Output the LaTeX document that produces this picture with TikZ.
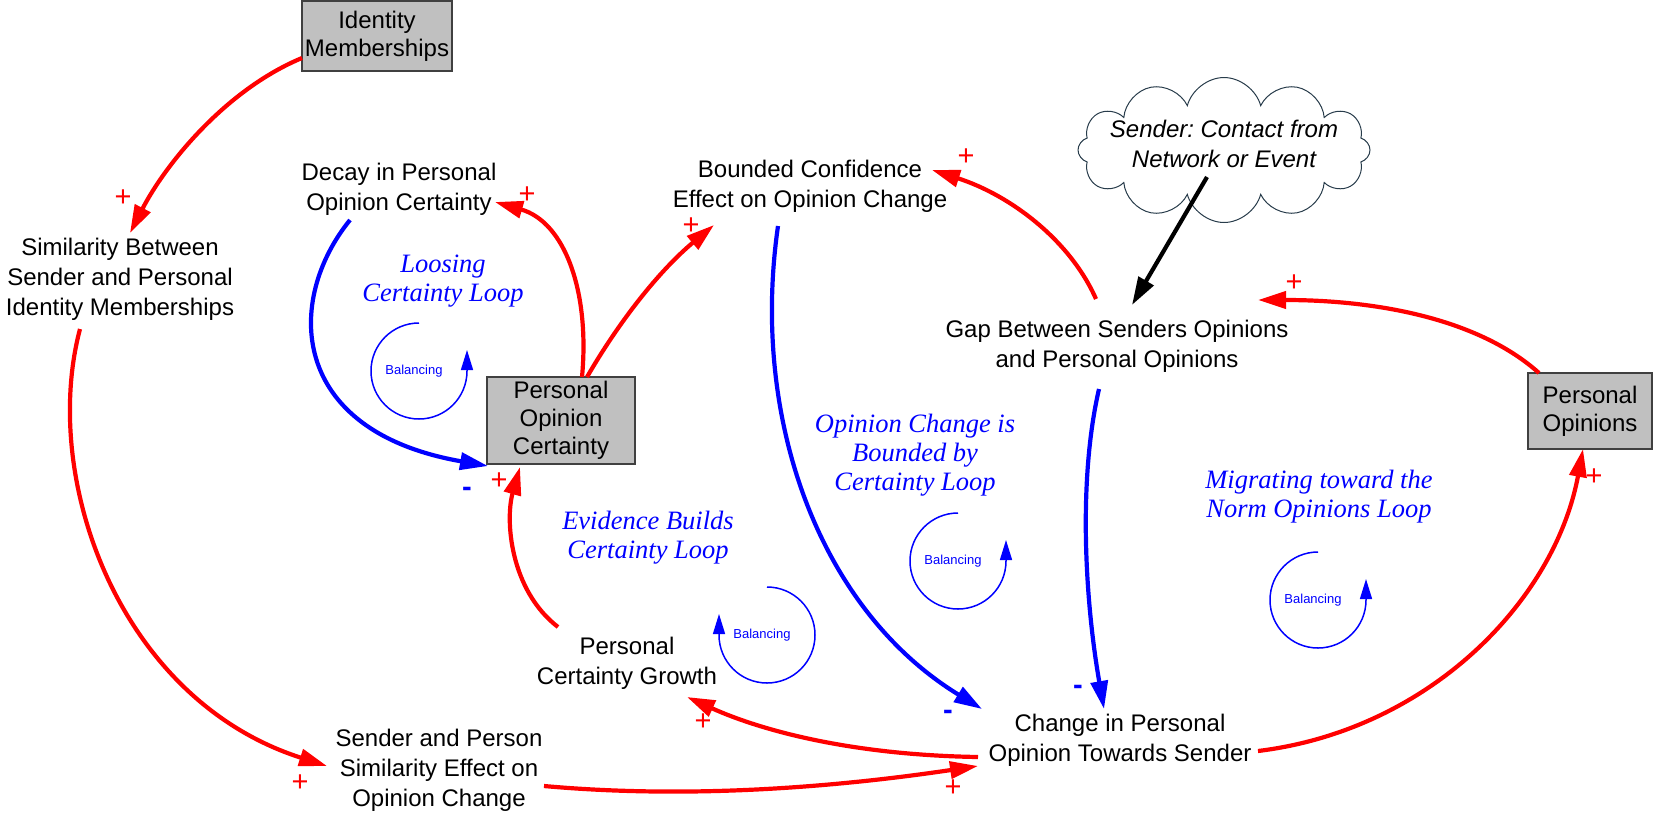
\documentclass[tikz,border=0pt]{standalone}
\usepackage{fontspec}
\setmainfont{Liberation Sans}
\newfontfamily\loopfont{Liberation Serif}
\usetikzlibrary{arrows.meta,shapes.symbols,calc}

\definecolor{boxgray}{RGB}{192,192,192}
\definecolor{boxline}{RGB}{64,64,64}
\definecolor{cloudline}{RGB}{40,60,75}

\begin{document}
\begin{tikzpicture}[x=1pt,y=-1pt,
  every node/.style={font=\fontsize{24}{30}\selectfont, align=center, inner sep=0pt},
  stock/.style={draw=boxline, line width=2pt, fill=boxgray, font=\fontsize{24}{28}\selectfont},
  pos link/.style={red, line width=4.2pt, -{Triangle[length=28pt,width=17pt]}},
  neg link/.style={blue, line width=4.2pt, -{Triangle[length=28pt,width=17pt]}},
  plus/.style={red, font=\fontsize{29}{30}\selectfont},
  minus/.style={blue, font=\bfseries\fontsize{29}{30}\selectfont},
  loop name/.style={blue, font=\loopfont\itshape\fontsize{26.5}{29}\selectfont},
  loop circle/.style={blue, line width=1.5pt, -{Triangle[length=20pt,width=12pt]}},
  loop tag/.style={blue, font=\fontsize{13}{15}\selectfont}]

  \useasboundingbox (0,0) rectangle (1665,815);

  % stocks and variables
  \node[stock, minimum width=150pt, minimum height=70pt] (idMem) at (377,36) {Identity\\Memberships};
  \node (simId) at (120,279) {Similarity Between\\Sender and Personal\\Identity Memberships};
  \node (decay) at (399,189) {Decay in Personal\\Opinion Certainty};
  \node (bounded) at (810,186) {Bounded Confidence\\Effect on Opinion Change};
  \node[cloud, cloud puffs=12, cloud ignores aspect, draw=cloudline, line width=1pt,
        minimum width=292pt, minimum height=145pt] (sender) at (1224,150) {};
  \node[font=\frenchspacing\itshape\fontsize{24}{30}\selectfont] (senderText) at ([yshift=6pt]sender.center)
        {Sender: Contact from\\Network or Event};
  \node (gap) at (1117,346) {Gap Between Senders Opinions\\and Personal Opinions};
  \node[stock, minimum width=148pt, minimum height=87pt] (poc) at (561,420) {Personal\\Opinion\\Certainty};
  \node[stock, minimum width=124pt, minimum height=76pt] (po) at (1590,411) {Personal\\Opinions};
  \node (growth) at (627,663) {Personal\\Certainty Growth};
  \node (change) at (1120,740) {Change in Personal\\Opinion Towards Sender};
  \node (simEff) at (439,770) {Sender and Person\\Similarity Effect on\\Opinion Change};

  % links
  \draw[pos link] ($(idMem)+(-75,22)$) .. controls +(-77,32) and +(35,-68) .. ($(simId)+(10,-46)$);
  \draw[pos link] ($(simId)+(-40,50)$) .. controls +(-40,151) and +(-207,-66) .. ($(simEff)+(-112,-4)$);
  \draw[pos link] ($(simEff)+(105,16)$) .. controls +(156,14) and +(-128,19) .. ($(change)+(-142,26)$);
  \draw[pos link] ($(change)+(-142,17)$) .. controls +(-128,-2) and +(73,33) .. ($(growth)+(60,34)$);
  \draw[pos link] ($(growth)+(-69,-36)$) .. controls +(-48,-37) and +(-15,53) .. ($(poc)+(-41,47)$);
  \draw[pos link] ($(poc)+(21,-43)$) .. controls +(8,-85) and +(70,20) .. ($(decay)+(96,13)$);
  \draw[neg link] ($(decay)+(-49,31)$) .. controls +(-65,80) and +(-200,-35) .. ($(poc)+(-73,46)$);
  \draw[pos link] ($(poc)+(26,-43)$) .. controls +(33,-57) and +(-54,45) .. ($(bounded)+(-96,39)$);
  \draw[neg link] ($(bounded)+(-32,40)$) .. controls +(-28,194) and +(-162,-99) .. ($(change)+(-138,-31)$);
  \draw[pos link] ($(gap)+(-21,-47)$) .. controls +(-26,-59) and +(78,25) .. ($(bounded)+(122,-16)$);
  \draw[line width=4.2pt, -{Triangle[length=28pt,width=17pt]}] ($(sender)+(-17,27)$) -- ($(gap)+(15,-41)$);
  \draw[pos link] ($(po)+(-51,-38)$) .. controls +(-59,-53) and +(122,0) .. ($(gap)+(141,-46)$);
  \draw[neg link] ($(gap)+(-18,43)$) .. controls +(-21,91) and +(-19,-109) .. ($(change)+(-16,-31)$);
  \draw[pos link] ($(change)+(138,11)$) .. controls +(172,-21) and +(-28,151) .. ($(po)+(-7,38)$);

  % polarities
  \node[plus] (pSim) at (123,198) {+};
  \node[plus] (pEff) at (300,783) {+};
  \node[plus] (pChg) at (953,788) {+};
  \node[plus] (pGro) at (703,722) {+};
  \node[plus] (pPoc) at (499,481) {+};
  \node[plus] (pDec) at (527,195) {+};
  \node[minus] (mPoc) at (467,492) {-};
  \node[plus] (pBnd) at (691,226) {+};
  \node[minus] (mChg) at (948,715) {-};
  \node[plus] (pBnd2) at (966,157) {+};
  \node[plus] (pGap) at (1294,283) {+};
  \node[minus] (mChg2) at (1078,690) {-};
  \node[plus] (pPo) at (1594,477) {+};

  % loops
  \node[loop name] (loseName) at (443,281) {Loosing\\Certainty Loop};
  \node[loop name] (boundName) at (915,455) {Opinion Change is\\Bounded by\\Certainty Loop};
  \node[loop name] (evidName) at (648,538) {Evidence Builds\\Certainty Loop};
  \node[loop name] (normName) at (1319,497) {Migrating toward the\\Norm Opinions Loop};

  \foreach \cx/\cy/\ea [count=\i] in {419/371/-360, 767/635/180, 958/561/-360, 1318/600/-360}
  {
    \draw[loop circle] (\cx,\cy-48) arc[start angle=-90, end angle=\ea, radius=48] -- ++(0,-21);
    \node[loop tag] (bal\i) at (\cx-5,\cy) {Balancing};
  }

\end{tikzpicture}
\end{document}
